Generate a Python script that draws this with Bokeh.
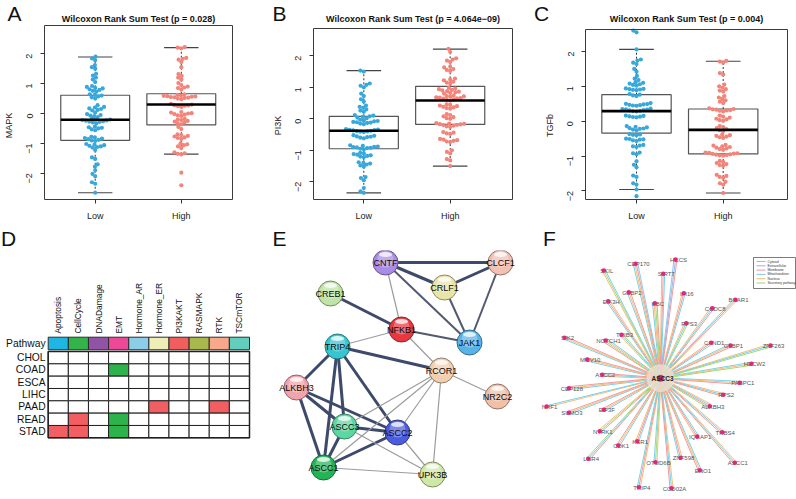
import math
import numpy as np
from bokeh.plotting import figure
from bokeh.models import Range1d, FixedTicker, LinearAxis, ColumnDataSource
from bokeh.layouts import row, column
from bokeh.core.properties import value
from bokeh.embed import file_html
from bokeh.resources import INLINE

FONT = "Liberation Sans"

# ---------------- data: panels A-C ----------------
groups = ["Low", "High"]
titles = ["Wilcoxon Rank Sum Test (p = 0.028)",
          "Wilcoxon Rank Sum Test (p = 4.064e\u221209)",
          "Wilcoxon Rank Sum Test (p = 0.004)"]
ylabels = ["MAPK", "PI3K", "TGFb"]

A_low = [1.90, 1.84, 1.78, 1.62, 1.55, 1.50, 1.33, 1.27, 1.20, 1.14, 1.05, 0.92, 0.89, 0.86, 0.84, 0.81,
         0.79, 0.76, 0.73, 0.64, 0.62, 0.60, 0.57, 0.54, 0.50, 0.28, 0.22, 0.20, 0.17, 0.15, 0.12, 0.10,
         0.03, -0.02, -0.05, -0.07, -0.09, -0.12, -0.18, -0.20, -0.21, -0.22, -0.23, -0.24, -0.26, -0.27,
         -0.28, -0.30, -0.33, -0.44, -0.46, -0.48, -0.50, -0.53, -0.56, -0.78, -0.80, -0.82, -0.84, -0.86,
         -0.88, -0.90, -0.92, -1.02, -1.04, -1.06, -1.08, -1.10, -1.12, -1.14, -1.22, -1.47, -1.52, -1.70,
         -1.78, -1.90, -2.02, -2.10, -2.30, -2.35, -2.65]
A_high = [2.22, 2.20, 2.18, 1.86, 1.83, 1.80, 1.72, 1.55, 1.32, 1.26, 1.20, 1.14, 1.02, 0.95, 0.90, 0.87,
          0.85, 0.80, 0.64, 0.62, 0.60, 0.59, 0.58, 0.57, 0.56, 0.55, 0.54, 0.53, 0.52, 0.50, 0.48, 0.32,
          0.30, 0.28, 0.27, 0.26, 0.25, 0.22, 0.05, 0.03, 0.01, 0.00, -0.02, -0.04, -0.06, -0.08, -0.18,
          -0.20, -0.22, -0.25, -0.27, -0.30, -0.33, -0.36, -0.45, -0.52, -0.70, -0.72, -0.75, -0.77, -0.80,
          -0.82, -0.85, -1.00, -1.03, -1.06, -1.10, -1.15, -1.30, -1.33, -1.35, -1.37, -1.98, -2.40]
B_low = [1.53, 1.50, 1.12, 1.08, 1.05, 1.00, 0.80, 0.72, 0.62, 0.55, 0.42, 0.38, 0.35, 0.30, 0.26, 0.22,
         0.12, 0.10, 0.08, 0.06, 0.04, 0.02, -0.03, -0.05, -0.07, -0.08, -0.10, -0.11, -0.12, -0.13, -0.15,
         -0.17, -0.33, -0.34, -0.35, -0.36, -0.37, -0.38, -0.39, -0.40, -0.41, -0.42, -0.52, -0.54, -0.56,
         -0.57, -0.58, -0.60, -0.62, -0.84, -0.86, -0.88, -0.89, -0.90, -0.91, -0.92, -0.93, -0.95, -0.97,
         -1.08, -1.10, -1.12, -1.14, -1.16, -1.18, -1.20, -1.22, -1.38, -1.40, -1.42, -1.45, -1.48, -1.52,
         -1.85, -1.88, -1.95, -2.20, -2.30, -2.35]
B_high = [2.22, 2.12, 1.92, 1.88, 1.85, 1.80, 1.66, 1.63, 1.58, 1.55, 1.52, 1.28, 1.25, 1.22, 1.18, 1.15,
          1.12, 0.98, 0.96, 0.94, 0.92, 0.90, 0.88, 0.86, 0.84, 0.82, 0.80, 0.74, 0.72, 0.71, 0.70, 0.68,
          0.67, 0.66, 0.65, 0.64, 0.62, 0.60, 0.58, 0.46, 0.44, 0.42, 0.40, 0.38, 0.36, 0.34, 0.32, 0.15,
          0.12, 0.08, 0.05, 0.02, 0.00, -0.14, -0.15, -0.16, -0.17, -0.18, -0.19, -0.20, -0.22, -0.24, -0.26,
          -0.42, -0.44, -0.46, -0.48, -0.64, -0.66, -0.68, -0.70, -0.72, -0.74, -1.00, -1.05, -1.10, -1.28,
          -1.32, -1.50]
C_low = [2.60, 2.55, 2.06, 1.77, 1.74, 1.68, 1.64, 1.50, 1.42, 1.30, 1.22, 1.18, 1.12, 1.10, 1.08, 1.06,
         1.04, 1.02, 0.94, 0.93, 0.92, 0.91, 0.90, 0.89, 0.78, 0.76, 0.74, 0.72, 0.52, 0.50, 0.49, 0.48,
         0.47, 0.46, 0.45, 0.44, 0.36, 0.35, 0.34, 0.33, 0.32, 0.31, 0.30, 0.29, 0.28, 0.16, 0.15, 0.14,
         0.13, 0.12, 0.11, -0.14, -0.16, -0.18, -0.20, -0.21, -0.22, -0.24, -0.26, -0.37, -0.38, -0.39,
         -0.40, -0.50, -0.51, -0.52, -0.53, -0.55, -0.57, -0.68, -0.70, -0.72, -0.74, -0.90, -0.92, -0.95,
         -1.15, -1.25, -1.32, -1.56, -1.60, -1.78, -1.82, -1.96, -2.15]
C_high = [1.73, 1.71, 1.68, 1.38, 1.34, 1.05, 1.00, 0.96, 0.92, 0.88, 0.85, 0.72, 0.68, 0.64, 0.60, 0.56,
          0.52, 0.37, 0.35, 0.34, 0.33, 0.32, 0.31, 0.30, 0.28, 0.16, 0.13, 0.10, 0.07, 0.05, 0.03, 0.01,
          -0.14, -0.17, -0.20, -0.23, -0.26, -0.28, -0.38, -0.40, -0.42, -0.44, -0.46, -0.48, -0.68, -0.70,
          -0.72, -0.74, -0.76, -0.78, -0.80, -0.82, -0.90, -0.91, -0.92, -0.93, -0.94, -0.95, -0.96, -0.97,
          -0.98, -0.99, -1.14, -1.17, -1.20, -1.23, -1.26, -1.28, -1.54, -1.57, -1.60, -1.62, -1.74, -1.78,
          -1.82, -2.06]

# box statistics (lower whisker, Q1, median, Q3, upper whisker)
A_box_low = [-2.65, -0.90, -0.21, 0.61, 1.89]
A_box_high = [-1.36, -0.38, 0.30, 0.66, 2.20]
B_box_low = [-2.35, -0.95, -0.38, 0.08, 1.53]
B_box_high = [-1.50, -0.18, 0.58, 1.03, 2.21]
C_box_low = [-1.96, -0.34, 0.29, 0.76, 2.06]
C_box_high = [-2.06, -0.94, -0.25, 0.35, 1.72]

# ---------------- data: panel D ----------------
pathways = ["Apoptosis", "CellCycle", "DNADamage", "EMT", "Hormone_AR", "Hormone_ER",
            "PI3KAKT", "RASMAPK", "RTK", "TSCmTOR"]
pathway_colors = ["#1FB6E4", "#33B44A", "#9153A5", "#EE4899", "#8DCDE8", "#EEEFB6",
                  "#F05E5E", "#A9B84D", "#F8A98B", "#62CFBE"]
cancers = ["CHOL", "COAD", "ESCA", "LIHC", "PAAD", "READ", "STAD"]
# 1 = activation (red), -1 = inhibition (green), 0 = none
status = [
    [0, 0, 0, 0, 0, 0, 0, 0, 0, 0],
    [0, 0, 0, -1, 0, 0, 0, 0, 0, 0],
    [0, 0, 0, 0, 0, 0, 0, 0, 0, 0],
    [0, 0, 0, 0, 0, 0, 0, 0, 0, 0],
    [0, 0, 0, 0, 0, 1, 0, 0, 1, 0],
    [0, 1, 0, -1, 0, 0, 0, 0, 0, 0],
    [1, 1, 0, -1, 0, 0, 0, 0, 0, 0],
]

# ---------------- data: panel E (STRING network) ----------------
E_nodes = ["CNTF", "CLCF1", "CRLF1", "CREB1", "NFKB1", "JAK1", "TRIP4", "RCOR1",
           "ALKBH3", "NR2C2", "ASCC3", "ASCC2", "ASCC1", "UPK3B"]
E_x = [385, 500, 444, 330, 401, 469, 337, 441, 296, 497, 344, 397, 323, 432]
E_y = [262, 262, 287, 293, 329, 342, 346, 370, 387, 396, 426, 432, 467, 474]
E_colors = ["#A88CE6", "#F3C0B4", "#E9E5A9", "#C0E3A7", "#E8373E", "#58B3E8", "#38C5CF",
            "#F2CFAF", "#F1A4AC", "#F2C0A7", "#5ED6A3", "#4B5CDF", "#22B556", "#CFE8A7"]
E_edges = [("CNTF", "CLCF1", 3), ("CLCF1", "CRLF1", 3), ("CNTF", "CRLF1", 3), ("CNTF", "JAK1", 2),
           ("CLCF1", "JAK1", 2), ("CRLF1", "JAK1", 2), ("CNTF", "NFKB1", 1), ("CREB1", "NFKB1", 3),
           ("NFKB1", "JAK1", 2), ("NFKB1", "TRIP4", 1), ("NFKB1", "RCOR1", 1), ("TRIP4", "RCOR1", 3),
           ("TRIP4", "ALKBH3", 3), ("TRIP4", "ASCC3", 3), ("TRIP4", "ASCC1", 3), ("TRIP4", "ASCC2", 3),
           ("ALKBH3", "ASCC3", 3), ("ALKBH3", "ASCC2", 3), ("ALKBH3", "ASCC1", 3), ("ASCC3", "ASCC2", 3),
           ("ASCC3", "ASCC1", 3), ("ASCC2", "ASCC1", 3), ("RCOR1", "NR2C2", 1), ("RCOR1", "ASCC3", 1),
           ("RCOR1", "ASCC2", 1), ("RCOR1", "ASCC1", 1), ("RCOR1", "UPK3B", 1), ("ASCC3", "UPK3B", 1),
           ("ASCC2", "UPK3B", 1), ("ASCC1", "UPK3B", 1)]

# ---------------- data: panel F (ASCC3 star network) ----------------
F_center = ("ASCC3", 660, 377.7)
F_nodes = ["SKIL", "CEP170", "HCCS", "SIRT7", "IFI16", "G3BP2", "EIF3H", "UBC", "CCDC8", "BCAR1",
           "RPS3", "TRIB3", "NOTCH1", "CAND1", "G3BP1", "ZNF263", "SIK2", "MOV10", "HECW2", "ASCC2",
           "PABPC1", "CEP128", "RPS2", "NRF1", "SUMO3", "EIF3F", "ALKBH3", "NTRK1", "TRBS4", "IQGAP1",
           "KSR1", "CDK1", "LGR4", "OTUD6B", "ZNF598", "ENO1", "ASCC1", "TRIP4", "CCD02A"]
F_x = [603.3, 635, 675, 662.7, 683.3, 628.3, 607.7, 654.3, 711.7, 735,
       685.7, 621, 605, 710.7, 730, 770, 564, 586.7, 751, 601.7,
       739.3, 568.3, 722.7, 546, 568.3, 603.3, 709.3, 599.3, 721.7, 696.7,
       636.7, 617.7, 587.7, 655, 680, 699.3, 734.3, 638.3, 671]
F_y = [270, 263.3, 259, 273.3, 292.7, 291.7, 300.7, 302.7, 307.7, 299.3,
       322.7, 334.3, 340, 342.3, 345, 345, 337.3, 359, 363.3, 374.3,
       382.3, 387.7, 394.3, 406, 412.3, 409.3, 405.7, 430.7, 431.7, 436,
       440.7, 445, 458.3, 461.7, 457.3, 469.7, 462.3, 486.7, 487.7]
F_comp = ["NSC", "CNMT", "TEM", "NMC", "NMC", "CNM", "CMN", "CNSM", "NCM", "CMN",
          "NCS", "NCS", "MSNC", "NMC", "CNM", "NCS", "CNM", "CNM", "CNS", "NCM",
          "CNM", "CNM", "NCM", "NC", "CNM", "CNM", "NCMS", "MSN", "NCM", "CMN",
          "CMN", "CNM", "MCS", "NSC", "NMC", "CNM", "NCM", "NMC", "NCM"]
comp_codes = ["C", "E", "M", "T", "N", "S"]
comp_names = ["Cytosol", "Extracellular", "Membrane", "Mitochondrion", "Nucleus", "Secretory pathway"]
comp_colors = ["#6FD0E6", "#9EADEE", "#F29494", "#82C6EA", "#F6B870", "#9DD870"]


# ---------------- helpers ----------------
def swarm_offsets(vals, py_unit, d):
    vals = np.asarray(vals, float)
    ys = vals * py_unit
    order = np.argsort(ys, kind="stable")
    xs = np.zeros(len(vals))
    px, pyl = [], []
    for i in order:
        y = ys[i]
        iv = []
        for a, b in zip(px, pyl):
            dy = abs(b - y)
            if dy < d:
                w = math.sqrt(d * d - dy * dy)
                iv.append((a - w, a + w))
        cands = [0.0] + [lo for lo, hi in iv] + [hi for lo, hi in iv]
        cands.sort(key=lambda c: (abs(c), c))
        for c in cands:
            if all(not (lo + 1e-6 < c < hi - 1e-6) for lo, hi in iv):
                xs[i] = c
                break
        px.append(xs[i])
        pyl.append(y)
    return xs


LOW_COL = "#37A8DB"
HIGH_COL = "#F2847A"

panels = [
    dict(letter="A", low=A_low, high=A_high, blow=A_box_low, bhigh=A_box_high,
         fig=(0, 265, 0, 250), frame=(44, 232, 25, 199), cx1=94.7, dx=86.1, y0px=113.0, dy=29.9,
         letter_pos=(14, 12.5), next_letter="D", next_pos=(8, 237.5)),
    dict(letter="B", low=B_low, high=B_high, blow=B_box_low, bhigh=B_box_high,
         fig=(265, 530, 0, 250), frame=(313, 512, 28, 199), cx1=363.3, dx=86.4, y0px=118.3, dy=31.5,
         letter_pos=(279, 12.5), next_letter="E", next_pos=(279, 237.5)),
    dict(letter="C", low=C_low, high=C_high, blow=C_box_low, bhigh=C_box_high,
         fig=(530, 796, 0, 250), frame=(585, 787, 29, 199), cx1=636.0, dx=86.7, y0px=120.7, dy=34.85,
         letter_pos=(541, 12.5), next_letter="F", next_pos=(549, 237.5)),
]

figs_top = []
for k, sp in enumerate(panels):
    gx0, gx1, gy0, gy1 = sp["fig"]
    fx0, fx1, fy0, fy1 = sp["frame"]

    def dx_(rx, sp=sp):
        return 1 + (rx - sp["cx1"]) / sp["dx"]

    def dy_(ry, sp=sp):
        return (sp["y0px"] - ry) / sp["dy"]

    p = figure(width=gx1 - gx0, height=gy1 - gy0,
               x_range=Range1d(dx_(gx0), dx_(gx1)), y_range=Range1d(dy_(gy1), dy_(gy0)),
               output_backend="svg", toolbar_location=None, title=None,
               x_axis_location=None, y_axis_location=None, min_border=0)
    p.background_fill_color = "white"
    p.border_fill_color = "white"
    p.outline_line_color = None
    p.grid.grid_line_color = None

    bl, br, bt, bb = dx_(fx0), dx_(fx1), dy_(fy0), dy_(fy1)

    # boxes
    for gi, (stats, cx) in enumerate([(sp["blow"], 1), (sp["bhigh"], 2)]):
        lo, q1, med, q3, hi = stats
        p.segment(x0=[cx, cx], y0=[lo, q3], x1=[cx, cx], y1=[q1, hi], line_color="#333333",
                  line_width=1, line_dash="2 2")
        p.segment(x0=[cx - 0.2, cx - 0.2], y0=[lo, hi], x1=[cx + 0.2, cx + 0.2], y1=[lo, hi],
                  line_color="#444444", line_width=1.2)
        p.quad(left=[cx - 0.4], right=[cx + 0.4], bottom=[q1], top=[q3], fill_color=None,
               line_color="#555555", line_width=1.2)
    # points
    for gi, (vals, col) in enumerate([(sp["low"], LOW_COL), (sp["high"], HIGH_COL)]):
        offs = swarm_offsets(vals, sp["dy"], 3.6) / sp["dx"]
        src = ColumnDataSource(dict(x=(gi + 1) + offs, y=vals))
        p.scatter("x", "y", source=src, size=4.2, fill_color=col, line_color=None)
    for gi, stats in enumerate([sp["blow"], sp["bhigh"]]):
        cx = gi + 1
        p.segment(x0=[cx - 0.4], y0=[stats[2]], x1=[cx + 0.4], y1=[stats[2]], line_color="black",
                  line_width=2.6)
    # plot box
    p.quad(left=[bl], right=[br], bottom=[bb], top=[bt], fill_color=None,
           line_color="#3a3a3a", line_width=1)

    # axes fixed on the box edges
    yax = LinearAxis(fixed_location=bl, ticker=FixedTicker(ticks=[-2, -1, 0, 1, 2]),
                     major_label_overrides={-2: "\u22122", -1: "\u22121", 0: "0", 1: "1", 2: "2"},
                     major_label_orientation=math.pi / 2, axis_label=ylabels[k])
    xax = LinearAxis(fixed_location=bb, ticker=FixedTicker(ticks=[1, 2]),
                     major_label_overrides={1: groups[0], 2: groups[1]})
    for ax in (yax, xax):
        ax.axis_line_color = None
        ax.minor_tick_line_color = None
        ax.major_tick_out = 4
        ax.major_tick_in = 0
        ax.major_tick_line_color = "#333333"
        ax.major_label_text_font = FONT
        ax.major_label_text_font_size = "9px"
        ax.major_label_text_color = "#222222"
        ax.axis_label_text_font = FONT
        ax.axis_label_text_font_size = "9px"
        ax.axis_label_text_font_style = "normal"
        ax.axis_label_text_color = "#222222"
    yax.major_label_standoff = 11
    yax.axis_label_standoff = 7
    xax.major_label_standoff = 7
    p.add_layout(yax, "left")
    p.add_layout(xax, "below")

    p.text(x=[(bl + br) / 2], y=[dy_(18.5)], text=[titles[k]], text_font=value(FONT),
           text_font_size="9px", text_font_style="bold", text_align="center",
           text_baseline="middle", text_color="#111111")
    lx, ly = sp["letter_pos"]
    nx, ny = sp["next_pos"]
    p.text(x=[dx_(lx), dx_(nx)], y=[dy_(ly), dy_(ny)], text=[sp["letter"], sp["next_letter"]],
           text_font=value(FONT), text_font_size="21px", text_align="center",
           text_baseline="middle", text_color="#111111")
    figs_top.append(p)


def blank_fig(width, xr, yr):
    p = figure(width=width, height=249, x_range=Range1d(*xr), y_range=Range1d(*yr),
               output_backend="svg", toolbar_location=None, title=None,
               x_axis_location=None, y_axis_location=None, min_border=0)
    p.grid.grid_line_color = None
    p.outline_line_color = None
    p.background_fill_color = "white"
    p.border_fill_color = "white"
    return p


# ---------------- panel D ----------------
col_w = 20.13
row_h = 12.33
left0, top0 = 47.7, 351.0
pD = blank_fig(270, ((0 - left0) / col_w, (270 - left0) / col_w),
               ((499 - top0) / row_h, (250 - top0) / row_h))
ncol = len(pathways)
nrow = len(cancers)
pD.rect(x=[i + 0.5 for i in range(ncol)], y=[-0.65] * ncol, width=1, height=1.02,
        fill_color=pathway_colors, line_color="#2a2a2a", line_width=1)
cx, cy, cc = [], [], []
for j in range(nrow):
    for i in range(ncol):
        cx.append(i + 0.5)
        cy.append(j + 0.5)
        s = status[j][i]
        cc.append("#F25F62" if s == 1 else ("#2DB34B" if s == -1 else "white"))
pD.rect(x=cx, y=cy, width=1, height=1, fill_color=cc, line_color="#222222", line_width=1)
pD.rect(x=[ncol / 2], y=[nrow / 2], width=ncol, height=nrow, fill_color=None,
        line_color="#222222", line_width=1.5)
pD.text(x=[i + 0.5 for i in range(ncol)], y=[-1.45] * ncol, text=pathways, angle=math.pi / 2,
        text_font=value(FONT), text_font_size="8.4px", text_align="left", text_baseline="middle",
        text_color="#111111")
pD.text(x=[-0.13] * (nrow + 1), y=[-0.65] + [j + 0.5 for j in range(nrow)], text=["Pathway"] + cancers,
        text_font=value(FONT), text_font_size="10.3px", text_align="right", text_baseline="middle",
        text_color="#111111")

# ---------------- panel E ----------------
pE = blank_fig(270, (270, 540), (499, 250))
idx = {n: i for i, n in enumerate(E_nodes)}
ex0, ey0, ex1, ey1, ew, ecol = [], [], [], [], [], []
for a, b, w in E_edges:
    ex0.append(E_x[idx[a]]); ey0.append(E_y[idx[a]])
    ex1.append(E_x[idx[b]]); ey1.append(E_y[idx[b]])
    ew.append({3: 3.0, 2: 2.0, 1: 1.2}[w])
    ecol.append({3: "#3E4A6C", 2: "#525A70", 1: "#9C9C9C"}[w])
pE.segment(x0="x0", y0="y0", x1="x1", y1="y1", line_width="w", line_color="c",
           source=ColumnDataSource(dict(x0=ex0, y0=ey0, x1=ex1, y1=ey1, w=ew, c=ecol)))
dark = []
for c in E_colors:
    r, g, b = int(c[1:3], 16), int(c[3:5], 16), int(c[5:7], 16)
    dark.append("#%02x%02x%02x" % (int(r * 0.6), int(g * 0.6), int(b * 0.6)))
pE.scatter(x=E_x, y=E_y, size=25, fill_color=E_colors, line_color=dark, line_width=1)
pE.scatter(x=E_x, y=[v - 3 for v in E_y], size=16, fill_color="white", fill_alpha=0.28, line_color=None)
pE.ellipse(x=E_x, y=[v - 8 for v in E_y], width=13, height=5, fill_color="white", fill_alpha=0.75,
           line_color=None)
pE.text(x=E_x, y=[v + 0.5 for v in E_y], text=E_nodes, text_font=value(FONT), text_font_size="9px",
        text_align="center", text_baseline="middle", text_color="#0a0a0a")

# ---------------- panel F ----------------
pF = blank_fig(256, (540, 796), (499, 250))
fcx, fcy = F_center[1], F_center[2]
mxs, mys, mcol = [], [], []
for n, x, y, comps in zip(F_nodes, F_x, F_y, F_comp):
    dxv, dyv = x - fcx, y - fcy
    L = math.hypot(dxv, dyv)
    nx_, ny_ = -dyv / L, dxv / L
    m = len(comps)
    for q, code in enumerate(comps):
        off = (q - (m - 1) / 2) * 1.5
        mxs.append([fcx + nx_ * off * 0.3, x + nx_ * off])
        mys.append([fcy + ny_ * off * 0.3, y + ny_ * off])
        mcol.append(comp_colors[comp_codes.index(code)])
pF.multi_line(xs=mxs, ys=mys, line_color=mcol, line_width=1.0, line_alpha=0.95)
pF.scatter(x=[fcx], y=[fcy], size=28, fill_color="#EFE5D8", fill_alpha=0.7, line_color=None)
pF.text(x=[v + 3 for v in F_x], y=[v + 0.5 for v in F_y], text=F_nodes, text_font=value(FONT),
        text_font_size="6px", text_align="center", text_baseline="middle", text_color="#555555")
pF.scatter(x=F_x, y=F_y, size=4.5, fill_color="#E0287A", line_color=None)
pF.scatter(x=[fcx], y=[fcy], size=7, fill_color="#E0287A", line_color=None)
pF.text(x=[fcx + 2], y=[fcy + 0.5], text=[F_center[0]], text_font=value(FONT), text_font_size="6.5px",
        text_font_style="bold", text_align="center", text_baseline="middle", text_color="#222222")
# legend
lg_x0, lg_y0 = 753, 257
pF.quad(left=[lg_x0], right=[795], top=[lg_y0], bottom=[lg_y0 + 31], fill_color="white",
        line_color="#444444", line_width=0.7)
ly = [lg_y0 + 4 + 4.3 * i for i in range(len(comp_names))]
pF.segment(x0=[lg_x0 + 3] * 6, y0=ly, x1=[lg_x0 + 12] * 6, y1=ly, line_color=comp_colors, line_width=1)
pF.text(x=[lg_x0 + 14] * 6, y=ly, text=comp_names, text_font=value(FONT), text_font_size="3.4px",
        text_align="left", text_baseline="middle", text_color="#333333")

layout = column(row(*figs_top), row(pD, pE, pF))
open("out.html", "w").write(file_html(layout, INLINE))
